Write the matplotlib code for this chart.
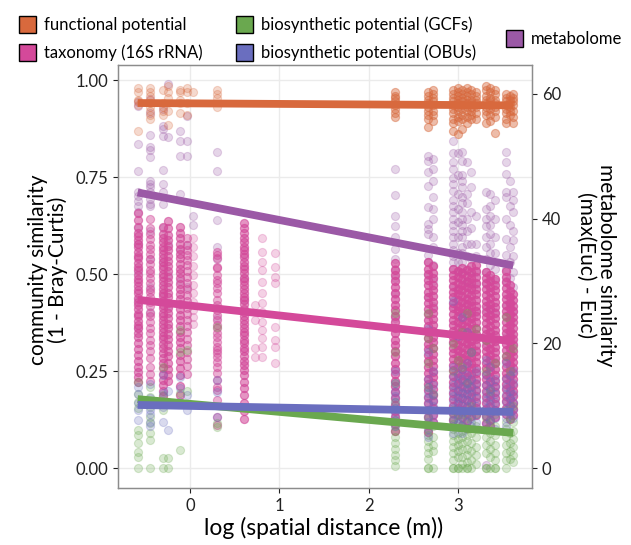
# similitud de comunidades vs distancia espacial
import matplotlib
matplotlib.use("Agg")
import matplotlib.pyplot as plt
from matplotlib.patches import Rectangle

plt.rcParams['font.family'] = ['Lato', 'DejaVu Sans']

# ---- datos ----
# columnas de distancia (log10 m)
func_x = [-0.59, -0.45, -0.31, -0.25, -0.11, -0.04, 0.03, 0.30,
          2.30, 2.67, 2.72, 2.95, 3.00, 3.05, 3.10, 3.15, 3.20,
          3.31, 3.36, 3.41, 3.54, 3.58, 3.62]
func_y = [
    [0.98, 0.97, 0.95, 0.945, 0.935, 0.87],
    [0.98, 0.97, 0.96, 0.95, 0.94, 0.93, 0.92, 0.91, 0.90],
    [0.975, 0.94, 0.93, 0.92, 0.91],
    [0.985, 0.97, 0.955, 0.92, 0.885],
    [0.975, 0.97, 0.95, 0.94, 0.915],
    [0.98, 0.97, 0.94, 0.91],
    [0.97],
    [0.975, 0.965, 0.955, 0.93],
    [0.97, 0.96, 0.955, 0.945, 0.935, 0.925, 0.915, 0.905],
    [0.97, 0.96, 0.95, 0.94, 0.93, 0.92, 0.91, 0.90, 0.88],
    [0.975, 0.965, 0.955, 0.945, 0.935, 0.92, 0.91, 0.895],
    [0.975, 0.965, 0.955, 0.945, 0.935, 0.925, 0.915, 0.90, 0.89, 0.87],
    [0.98, 0.97, 0.96, 0.95, 0.94, 0.93, 0.92, 0.905, 0.895, 0.86],
    [0.975, 0.965, 0.955, 0.945, 0.935, 0.925, 0.91, 0.90, 0.875],
    [0.98, 0.97, 0.96, 0.95, 0.94, 0.93, 0.92, 0.905, 0.89],
    [0.975, 0.965, 0.95, 0.94, 0.93, 0.92, 0.91, 0.90],
    [0.97, 0.96, 0.95, 0.94, 0.93, 0.915, 0.90],
    [0.985, 0.975, 0.96, 0.95, 0.94, 0.93, 0.92, 0.91, 0.89],
    [0.98, 0.97, 0.955, 0.945, 0.935, 0.925, 0.91, 0.895],
    [0.975, 0.965, 0.95, 0.94, 0.93, 0.92, 0.905, 0.865],
    [0.965, 0.955, 0.945, 0.935, 0.925, 0.915, 0.90, 0.89],
    [0.96, 0.95, 0.94, 0.93, 0.92, 0.91],
    [0.965, 0.955, 0.945, 0.935, 0.92, 0.905, 0.89],
]
# veces que se repite cada columna (pares superpuestos, estimado por la intensidad)
func_rep = [1, 1, 1, 1, 1, 1, 1, 1,
            2, 2, 2, 2, 2, 2, 2, 2, 2,
            2, 2, 2, 2, 2, 2]

taxo_x = [-0.59, -0.45, -0.31, -0.25, -0.11, -0.04, 0.03, 0.30, 0.60, 0.72, 0.80, 0.95,
          2.30, 2.67, 2.72, 2.95, 3.00, 3.05, 3.10, 3.15, 3.20,
          3.31, 3.36, 3.41, 3.54, 3.58, 3.62]
taxo_y = [
    [0.657, 0.639, 0.621, 0.606, 0.598, 0.589, 0.577, 0.569, 0.558, 0.547, 0.541, 0.529, 0.518,
     0.511, 0.499, 0.488, 0.481, 0.469, 0.458, 0.452, 0.439, 0.428, 0.421, 0.409, 0.398, 0.391,
     0.379, 0.368, 0.361, 0.349, 0.337, 0.322, 0.308, 0.291, 0.277, 0.262, 0.248, 0.236, 0.221],
    [0.642, 0.619, 0.603, 0.591, 0.574, 0.566, 0.551, 0.538, 0.527, 0.512, 0.503, 0.489, 0.476,
     0.462, 0.454, 0.441, 0.428, 0.417, 0.401, 0.392, 0.378, 0.362, 0.349, 0.331, 0.318, 0.301,
     0.283, 0.262, 0.244, 0.226],
    [0.621, 0.604, 0.592, 0.583, 0.571, 0.562, 0.553, 0.542, 0.531, 0.522, 0.513, 0.501, 0.492,
     0.483, 0.471, 0.462, 0.451, 0.443, 0.432, 0.421, 0.412, 0.401, 0.393, 0.381, 0.372, 0.361,
     0.352, 0.341, 0.332, 0.321, 0.309, 0.297, 0.284, 0.271, 0.259, 0.243, 0.228, 0.214, 0.199,
     0.186],
    [0.638, 0.619, 0.601, 0.587, 0.572, 0.561, 0.548, 0.533, 0.521, 0.509, 0.493, 0.481, 0.468,
     0.452, 0.441, 0.427, 0.412, 0.401, 0.387, 0.372, 0.361, 0.347, 0.332, 0.318, 0.302, 0.288,
     0.271, 0.256, 0.239, 0.224],
    [0.621, 0.607, 0.594, 0.578, 0.566, 0.552, 0.541, 0.527, 0.513, 0.502, 0.489, 0.474, 0.463,
     0.449, 0.436, 0.423, 0.409, 0.396, 0.381, 0.367, 0.352, 0.338, 0.324, 0.309, 0.292, 0.276,
     0.259, 0.241, 0.212, 0.188],
    [0.593, 0.575, 0.561, 0.549, 0.536, 0.523, 0.508, 0.492, 0.477, 0.461, 0.446, 0.431, 0.414,
     0.398, 0.382, 0.366, 0.351, 0.334, 0.318, 0.299, 0.282, 0.263, 0.243],
    [0.592, 0.571, 0.548, 0.521, 0.498, 0.472, 0.452, 0.428, 0.407, 0.389, 0.371],
    [0.549, 0.518, 0.557, 0.541, 0.515, 0.497, 0.485, 0.477, 0.464, 0.451, 0.433, 0.420, 0.407,
     0.394, 0.381, 0.369, 0.361, 0.348, 0.338, 0.325, 0.312, 0.304, 0.296, 0.286, 0.273, 0.260,
     0.245, 0.227, 0.209, 0.201, 0.175, 0.131, 0.111],
    [0.631, 0.618, 0.606, 0.594, 0.583, 0.571, 0.562, 0.551, 0.543, 0.532, 0.521, 0.513, 0.502,
     0.491, 0.483, 0.472, 0.461, 0.452, 0.441, 0.433, 0.422, 0.411, 0.402, 0.391, 0.382, 0.371,
     0.362, 0.351, 0.342, 0.331, 0.322, 0.311, 0.301, 0.289, 0.277, 0.266, 0.252, 0.239, 0.223,
     0.207, 0.188, 0.169, 0.148, 0.126],
    [0.420, 0.381, 0.309, 0.286],
    [0.593, 0.557, 0.531, 0.510, 0.479, 0.451, 0.425, 0.402, 0.376, 0.356, 0.335, 0.312, 0.286],
    [0.554, 0.518, 0.492, 0.477, 0.363, 0.330, 0.312, 0.271],
    [0.528, 0.511, 0.497, 0.482, 0.466, 0.452, 0.437, 0.421, 0.408, 0.393, 0.377, 0.362, 0.348,
     0.331, 0.317, 0.302, 0.288, 0.271, 0.256, 0.242, 0.226, 0.211, 0.196, 0.181, 0.164, 0.148,
     0.131, 0.114, 0.096],
    [0.531, 0.514, 0.501, 0.486, 0.471, 0.455, 0.441, 0.426, 0.411, 0.397, 0.381, 0.366, 0.352,
     0.336, 0.321, 0.307, 0.291, 0.276, 0.262, 0.246, 0.231, 0.216, 0.201, 0.184, 0.168, 0.151,
     0.133, 0.112, 0.094],
    [0.522, 0.504, 0.489, 0.473, 0.458, 0.443, 0.428, 0.414, 0.399, 0.384, 0.369, 0.354, 0.339,
     0.324, 0.309, 0.294, 0.279, 0.264, 0.249, 0.234, 0.219, 0.203, 0.188, 0.172, 0.154, 0.137,
     0.118],
    [0.513, 0.498, 0.484, 0.469, 0.455, 0.441, 0.426, 0.412, 0.397, 0.383, 0.368, 0.354, 0.339,
     0.325, 0.311, 0.296, 0.282, 0.267, 0.253, 0.238, 0.223, 0.209, 0.193, 0.178, 0.161, 0.143,
     0.124],
    [0.508, 0.492, 0.477, 0.463, 0.448, 0.434, 0.419, 0.405, 0.391, 0.376, 0.362, 0.347, 0.333,
     0.318, 0.304, 0.289, 0.275, 0.261, 0.246, 0.232, 0.217, 0.202, 0.186, 0.171, 0.155, 0.137],
    [0.517, 0.502, 0.487, 0.472, 0.458, 0.443, 0.429, 0.414, 0.399, 0.385, 0.371, 0.356, 0.342,
     0.327, 0.313, 0.298, 0.284, 0.269, 0.255, 0.241, 0.226, 0.211, 0.196, 0.181, 0.165, 0.149,
     0.131, 0.112],
    [0.511, 0.495, 0.481, 0.466, 0.452, 0.437, 0.423, 0.408, 0.394, 0.379, 0.365, 0.351, 0.336,
     0.322, 0.307, 0.293, 0.278, 0.264, 0.249, 0.235, 0.221, 0.206, 0.191, 0.176, 0.159, 0.141,
     0.122, 0.104],
    [0.521, 0.506, 0.491, 0.476, 0.461, 0.446, 0.432, 0.417, 0.402, 0.388, 0.373, 0.359, 0.344,
     0.329, 0.315, 0.301, 0.286, 0.271, 0.257, 0.242, 0.228, 0.213, 0.198, 0.183, 0.167, 0.151,
     0.134],
    [0.524, 0.508, 0.493, 0.478, 0.463, 0.449, 0.434, 0.419, 0.405, 0.391, 0.376, 0.361, 0.347,
     0.332, 0.318, 0.303, 0.289, 0.274, 0.259, 0.245, 0.231, 0.216, 0.201, 0.186, 0.171, 0.154,
     0.136],
    [0.506, 0.491, 0.476, 0.461, 0.447, 0.432, 0.418, 0.403, 0.389, 0.374, 0.359, 0.345, 0.331,
     0.316, 0.302, 0.287, 0.272, 0.258, 0.243, 0.229, 0.214, 0.199, 0.184, 0.168, 0.152, 0.135,
     0.117, 0.101],
    [0.497, 0.482, 0.468, 0.453, 0.439, 0.424, 0.409, 0.395, 0.381, 0.366, 0.352, 0.337, 0.322,
     0.308, 0.293, 0.279, 0.264, 0.250, 0.235, 0.221, 0.206, 0.191, 0.175, 0.159, 0.142, 0.124,
     0.108],
    [0.488, 0.473, 0.458, 0.444, 0.429, 0.415, 0.401, 0.386, 0.371, 0.357, 0.343, 0.328, 0.313,
     0.299, 0.285, 0.270, 0.256, 0.241, 0.226, 0.212, 0.197, 0.182, 0.166, 0.149, 0.131],
    [0.508, 0.493, 0.479, 0.464, 0.449, 0.435, 0.421, 0.406, 0.392, 0.377, 0.362, 0.348, 0.333,
     0.319, 0.304, 0.290, 0.275, 0.261, 0.246, 0.232, 0.217, 0.203, 0.187, 0.172, 0.156, 0.139],
    [0.471, 0.456, 0.441, 0.427, 0.412, 0.398, 0.383, 0.369, 0.354, 0.339, 0.325, 0.311, 0.296,
     0.281, 0.267, 0.252, 0.238, 0.223, 0.208, 0.193, 0.178, 0.162, 0.145, 0.128],
    [0.448, 0.434, 0.419, 0.405, 0.390, 0.376, 0.361, 0.347, 0.332, 0.318, 0.303, 0.289, 0.274,
     0.259, 0.245, 0.230, 0.215, 0.200, 0.185, 0.169, 0.152, 0.136],
]
taxo_rep = [3, 2, 3, 3, 3, 2, 1, 2, 3, 1, 1, 1,
            4, 4, 4, 4, 4, 4, 4, 4, 4,
            4, 4, 4, 4, 4, 4]

gcf_x = [-0.59, -0.45, -0.31, -0.25, -0.11, -0.04, 0.30,
         2.30, 2.67, 2.72, 2.95, 3.00, 3.05, 3.10, 3.15, 3.20,
         3.31, 3.36, 3.41, 3.54, 3.58, 3.62]
gcf_y = [
    [0.222, 0.19, 0.17, 0.155, 0.098, 0.085, 0.064, 0.041, 0.028, 0.0],
    [0.21, 0.183, 0.157, 0.131, 0.116, 0.09, 0.072, 0.0],
    [0.26, 0.188, 0.149, 0.026, 0.0],
    [0.17, 0.026, 0.0],
    [0.356, 0.30, 0.193, 0.046],
    [0.304, 0.20],
    [0.363, 0.116, 0.106],
    [0.40, 0.30, 0.22, 0.17, 0.124, 0.11, 0.095, 0.08, 0.065, 0.05, 0.035, 0.02, 0.005],
    [0.40, 0.335, 0.27, 0.21, 0.13, 0.098, 0.085, 0.07, 0.055, 0.04, 0.025, 0.0, 0.0],
    [0.31, 0.19, 0.11, 0.08, 0.06, 0.045, 0.0],
    [0.32, 0.25, 0.15, 0.13, 0.115, 0.10, 0.085, 0.07, 0.055, 0.04, 0.02, 0.0, 0.0],
    [0.28, 0.14, 0.12, 0.09, 0.075, 0.06, 0.045, 0.03, 0.0, 0.0],
    [0.35, 0.26, 0.14, 0.11, 0.095, 0.08, 0.065, 0.05, 0.03, 0.01, 0.0],
    [0.40, 0.22, 0.13, 0.10, 0.085, 0.07, 0.05, 0.035, 0.015, 0.0, 0.0],
    [0.30, 0.16, 0.12, 0.09, 0.065, 0.045, 0.02, 0.0],
    [0.36, 0.14, 0.11, 0.08, 0.055, 0.035, 0.01],
    [0.33, 0.25, 0.13, 0.10, 0.08, 0.06, 0.04, 0.0, 0.0],
    [0.20, 0.12, 0.09, 0.07, 0.05, 0.03, 0.0],
    [0.27, 0.14, 0.11, 0.085, 0.06, 0.04, 0.02, 0.0, 0.0],
    [0.39, 0.29, 0.15, 0.12, 0.10, 0.08, 0.06, 0.04, 0.02, 0.0],
    [0.25, 0.13, 0.09, 0.065, 0.045, 0.025],
    [0.31, 0.16, 0.12, 0.095, 0.075, 0.055, 0.035, 0.015],
]

obu_x = [-0.59, -0.45, -0.31, -0.25, -0.11, -0.04, 0.30,
         2.30, 2.67, 2.72, 2.95, 3.00, 3.05, 3.10, 3.15, 3.20,
         3.31, 3.36, 3.41, 3.54, 3.58, 3.62]
obu_y = [
    [0.209, 0.19, 0.168, 0.15, 0.124],
    [0.216, 0.18, 0.15, 0.14, 0.12, 0.11],
    [0.24, 0.193, 0.157, 0.118],
    [0.20, 0.098],
    [0.235, 0.206, 0.17],
    [0.188, 0.15],
    [0.227, 0.196, 0.131],
    [0.25, 0.22, 0.20, 0.185, 0.17, 0.155, 0.14, 0.125, 0.11],
    [0.36, 0.30, 0.23, 0.21, 0.195, 0.18, 0.165, 0.15, 0.135, 0.12, 0.10, 0.08],
    [0.25, 0.215, 0.19, 0.175, 0.16, 0.14, 0.12],
    [0.43, 0.26, 0.235, 0.215, 0.20, 0.185, 0.17, 0.155, 0.14, 0.125, 0.11, 0.09],
    [0.34, 0.24, 0.22, 0.20, 0.18, 0.165, 0.15, 0.13, 0.115],
    [0.39, 0.255, 0.23, 0.21, 0.195, 0.18, 0.16, 0.145, 0.13, 0.11, 0.09],
    [0.35, 0.27, 0.24, 0.22, 0.205, 0.19, 0.175, 0.16, 0.14, 0.12],
    [0.30, 0.23, 0.21, 0.19, 0.17, 0.15, 0.13, 0.11],
    [0.25, 0.22, 0.20, 0.18, 0.16, 0.14, 0.12],
    [0.28, 0.24, 0.215, 0.195, 0.175, 0.155, 0.135, 0.115],
    [0.26, 0.225, 0.205, 0.185, 0.165, 0.145, 0.125],
    [0.23, 0.21, 0.19, 0.17, 0.15, 0.13, 0.10],
    [0.27, 0.23, 0.21, 0.19, 0.17, 0.15, 0.13, 0.11],
    [0.24, 0.20, 0.18, 0.16, 0.14],
    [0.25, 0.22, 0.19, 0.17, 0.15, 0.13],
]

# metaboloma en el eje derecho (max(Euc) - Euc)
meta_x = [-0.59, -0.45, -0.31, -0.25, -0.11, -0.04, 0.03, 0.30, 0.60,
          2.30, 2.67, 2.72, 2.95, 3.00, 3.05, 3.10, 3.15, 3.20,
          3.31, 3.36, 3.41, 3.54, 3.58, 3.62]
meta_y = [
    [58.7, 58.1, 52.0, 47.7, 44.3, 43.7, 42.9, 42.1, 41.1, 38.5, 36.0, 31.5, 27.0, 22.5],
    [59.2, 57.0, 53.4, 51.5, 51.0, 49.9, 46.1, 45.6, 45.1, 44.3, 43.2, 42.4, 42.1, 38.0, 33.5,
     29.0, 25.0],
    [57.6, 54.9, 54.4, 53.3, 47.8, 45.6, 44.3, 42.4, 38.5, 33.0, 28.0],
    [61.6, 53.1, 36.0, 31.0, 26.0],
    [54.1, 52.5, 50.1, 44.0, 35.0, 30.0],
    [56.5, 52.5, 50.1, 35.8, 29.0],
    [40.5, 39.0],
    [50.7, 47.7, 39.8, 35.5, 33.5, 24.0],
    [30.5, 27.0],
    [48.0, 43.8, 40.5, 38.9, 37.1, 35.2, 33.6, 32.0, 30.5, 28.0, 24.0],
    [50.1, 49.3, 47.5, 45.3, 41.9, 39.2, 38.4, 37.6, 34.1, 33.1, 31.0, 27.5, 22.0],
    [49.5, 48.0, 46.0, 43.5, 41.6, 40.0, 37.1, 35.5, 32.5, 30.0, 26.0],
    [52.5, 50.5, 49.0, 48.0, 46.5, 45.5, 44.5, 43.0, 42.0, 41.0, 40.0, 39.0, 38.0, 37.0, 36.0,
     35.0, 34.0, 33.0, 32.0, 29.0, 26.0, 20.0],
    [50.5, 47.0, 44.0, 41.5, 39.5, 37.0, 34.5, 33.0, 31.5, 28.5, 25.5, 19.0],
    [50.7, 49.3, 47.0, 46.0, 45.0, 43.5, 42.5, 41.0, 40.0, 39.0, 38.0, 37.0, 35.5, 34.5, 33.0,
     31.5, 30.0, 27.0, 22.5, 17.5],
    [49.0, 44.0, 42.5, 40.0, 38.0, 36.0, 34.0, 32.0, 30.0, 26.0, 20.0],
    [47.5, 45.0, 41.0, 38.5, 36.0, 33.5, 31.0, 29.0, 24.5, 18.0],
    [40.5, 36.0, 34.0, 31.5, 29.5, 25.0, 19.0],
    [44.3, 41.6, 40.0, 38.9, 37.1, 35.5, 33.6, 31.5, 29.5, 25.5, 20.0, 0.5],
    [44.0, 42.0, 40.5, 39.0, 37.5, 36.0, 34.5, 32.5, 30.5, 25.5, 19.0],
    [43.0, 40.0, 37.0, 34.5, 32.0, 30.0, 25.0, 17.0],
    [50.7, 49.1, 47.2, 44.3, 43.5, 40.0, 36.8, 34.1, 32.0, 30.0, 26.0, 21.0],
    [46.0, 42.0, 39.0, 35.5, 33.0, 30.5, 26.5, 21.5],
    [44.3, 43.0, 41.0, 38.0, 36.5, 34.0, 31.5, 29.0, 25.0, 20.0],
]

# rectas de regresion (extremos)
fit_x = [-0.59, 3.62]
func_fit = [0.941, 0.935]
taxo_fit = [0.434, 0.327]
gcf_fit = [0.178, 0.091]
obu_fit = [0.163, 0.145]
meta_fit = [44.2, 32.5]

labels = ['functional potential', 'taxonomy (16S rRNA)',
          'biosynthetic potential (GCFs)', 'biosynthetic potential (OBUs)', 'metabolome']
colores = ['#D8693D', '#D4499A', '#6AA84F', '#6A6EBF', '#9B59A6']

K = 62.2  # relacion eje derecho / eje izquierdo


def puntos(ax, xs, ys, color, rep=None, **kw):
    px, py = [], []
    if rep is None:
        rep = [1] * len(xs)
    for x, col, n in zip(xs, ys, rep):
        for _ in range(n):
            px += [x] * len(col)
            py += col
    ax.scatter(px, py, s=34, color=color, alpha=0.25, linewidths=0.8,
               edgecolors=color, zorder=2, **kw)


W, H = 631, 545
fig = plt.figure(figsize=(W / 100, H / 100), dpi=100)
ax = fig.add_axes([118 / W, 1 - 488 / H, (532 - 118) / W, (488 - 65) / H])
ax2 = ax.twinx()

ylo, yhi = -0.051, 1.039
ax.set_ylim(ylo, yhi)
ax2.set_ylim(ylo * K, yhi * K)
ax.set_xlim(-0.81, 3.83)

# metaboloma con la escala del eje derecho, dibujado debajo del rosa
puntos(ax, meta_x, meta_y, colores[4], transform=ax2.transData)
puntos(ax, func_x, func_y, colores[0], func_rep)
puntos(ax, taxo_x, taxo_y, colores[1], taxo_rep)
puntos(ax, gcf_x, gcf_y, colores[2])
puntos(ax, obu_x, obu_y, colores[3])

lw = 5.6
ax.plot(fit_x, meta_fit, color=colores[4], lw=lw, solid_capstyle='butt', zorder=3,
        transform=ax2.transData)
ax.plot(fit_x, func_fit, color=colores[0], lw=lw, solid_capstyle='butt', zorder=3)
ax.plot(fit_x, taxo_fit, color=colores[1], lw=lw, solid_capstyle='butt', zorder=3)
ax.plot(fit_x, gcf_fit, color=colores[2], lw=lw, solid_capstyle='butt', zorder=3)
ax.plot(fit_x, obu_fit, color=colores[3], lw=lw, solid_capstyle='butt', zorder=4)

ax.set_xticks([0, 1, 2, 3])
ax.set_yticks([0, 0.25, 0.5, 0.75, 1.0])
ax.set_yticklabels(['0.00', '0.25', '0.50', '0.75', '1.00'])
ax2.set_yticks([0, 20, 40, 60])
ax.grid(True, color='#EBEBEB', lw=1.0, zorder=0)
ax.set_axisbelow(True)

for a in (ax, ax2):
    a.tick_params(labelsize=12, colors='#222222', length=3.5, width=0.8)
    for s in a.spines.values():
        s.set_color('#8C8C8C')
        s.set_linewidth(0.9)

# titulos de ejes en posicion fija
fig.text(324 / W, 1 - 528 / H, 'log (spatial distance (m))', fontsize=16.5,
         ha='center', va='center')
fig.text(48 / W, 1 - 270 / H, 'community similarity\n(1 - Bray-Curtis)', fontsize=15,
         rotation=90, ha='center', va='center', linespacing=1.0, multialignment='center')
fig.text(596 / W, 1 - 265 / H, 'metabolome similarity\n(max(Euc) - Euc)', fontsize=15,
         rotation=270, ha='center', va='center', linespacing=1.0, multialignment='center')


# leyenda manual (cuadros con borde negro)
def caja(x, y, color, texto):
    fig.add_artist(Rectangle((x / W, 1 - (y + 17) / H), 17 / W, 17 / H,
                             transform=fig.transFigure, facecolor=color,
                             edgecolor='black', lw=1.0))
    fig.text((x + 25) / W, 1 - (y + 9) / H, texto, fontsize=12, va='center')


caja(19, 16, colores[0], labels[0])
caja(19, 44, colores[1], labels[1])
caja(236, 16, colores[2], labels[2])
caja(236, 44, colores[3], labels[3])
caja(506, 30, colores[4], labels[4])

fig.savefig('out.png', dpi=100)
